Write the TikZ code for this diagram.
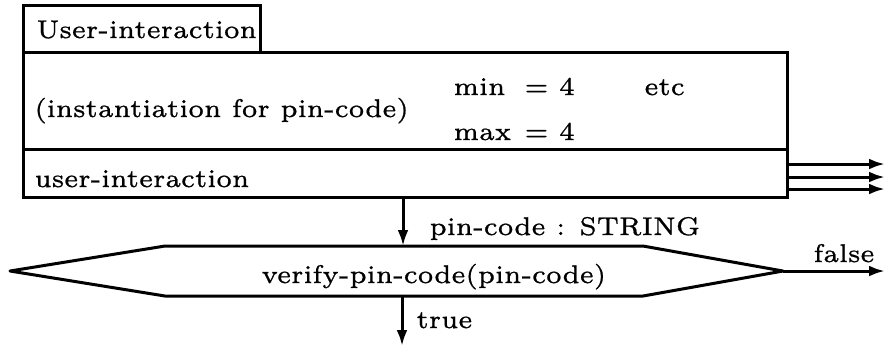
\documentclass[tikz,border=0pt]{standalone}
\usetikzlibrary{arrows.meta,fit}
% slightly heavier small-design Latin Modern for all labels
\font\labelfont="[lmroman6-regular]:mapping=tex-text;embolden=0.8" at 6.4pt
\begin{document}
\begin{tikzpicture}[x=0.25pt,y=-0.25pt,
  line width=0.75pt,
  lbl/.style={inner sep=0pt, anchor=base west, font=\labelfont},
  frame/.style={draw, inner sep=0pt, fit=#1},
  arr/.style={-{Latex[length=4pt,width=2.7pt]}},
]
\useasboundingbox (0,0) rectangle (885,346);

% corners of the module frame
\coordinate (tabNW) at (23,5);
\coordinate (tabSE) at (260,52);
\coordinate (boxNW) at (23,52);
\coordinate (boxSE) at (787,197);
\coordinate (sepL) at (23,149);
\coordinate (sepR) at (787,149);

\node[frame={(tabNW)(tabSE)}] (tab) {};
\node[frame={(boxNW)(boxSE)}] (box) {};
\draw (sepL) -- (sepR);

% texts inside the frame
\node[lbl] (title) at (35,38) {User-interaction};
\node[lbl] (inst) at (33,117) {(instantiation for pin-code)};
\node[lbl] (minl) at (452,95) {min};
\node[lbl] (mineq) at (523,95) {= 4};
\node[lbl] (maxl) at (452,140) {max};
\node[lbl] (maxeq) at (523,140) {= 4};
\node[lbl] (etc) at (643,95) {etc};
\node[lbl] (ui) at (33,187) {user-interaction};

% outputs on the right side
\coordinate (o1s) at (787,164); \coordinate (o1e) at (885,164);
\coordinate (o2s) at (787,177); \coordinate (o2e) at (885,177);
\coordinate (o3s) at (787,189); \coordinate (o3e) at (885,189);
\draw[arr] (o1s) -- (o1e);
\draw[arr] (o2s) -- (o2e);
\draw[arr] (o3s) -- (o3e);

% decision hexagon
\coordinate (hL) at (10,271);
\coordinate (hTL) at (165,246);
\coordinate (hTR) at (643,246);
\coordinate (hR) at (783,271);
\coordinate (hBR) at (643,296);
\coordinate (hBL) at (165,296);
\draw[line join=round] (hL) -- (hTL) -- (hTR) -- (hR) -- (hBR) -- (hBL) -- cycle;
\node[lbl] (verify) at (260,283) {verify-pin-code(pin-code)};

% flows
\coordinate (inS) at (403,197);
\coordinate (inE) at (403,246);
\draw[arr] (inS) -- (inE);
\node[lbl] (pinlbl) at (428,235) {pin-code : STRING};

\coordinate (fE) at (885,271);
\draw[arr] (hR) -- (fE);
\node[lbl] (falselbl) at (812,262) {false};

\coordinate (tS) at (402,296);
\coordinate (tE) at (402,346);
\draw[arr] (tS) -- (tE);
\node[lbl] (truelbl) at (415,328) {true};
\end{tikzpicture}
\end{document}
